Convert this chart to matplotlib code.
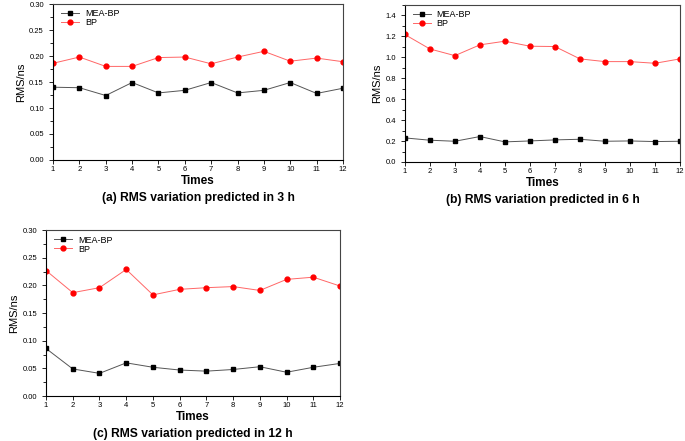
import numpy as np
import matplotlib
matplotlib.use('Agg')
import matplotlib.pyplot as plt
from matplotlib.ticker import AutoMinorLocator

plt.rcParams['font.family'] = ['Liberation Sans', 'DejaVu Sans']

times = list(range(1, 13))

# (a) 3 h
mea_3h = [0.140, 0.139, 0.124, 0.149, 0.129, 0.134, 0.149, 0.129, 0.134, 0.149, 0.128, 0.138]
bp_3h = [0.186, 0.198, 0.180, 0.180, 0.197, 0.198, 0.185, 0.198, 0.209, 0.190, 0.196, 0.189]

# (b) 6 h
mea_6h = [0.230, 0.208, 0.198, 0.243, 0.192, 0.201, 0.211, 0.217, 0.198, 0.201, 0.195, 0.198]
bp_6h = [1.218, 1.080, 1.016, 1.119, 1.154, 1.106, 1.103, 0.985, 0.959, 0.959, 0.943, 0.985]

# (c) 12 h
mea_12h = [0.086, 0.049, 0.041, 0.060, 0.052, 0.047, 0.045, 0.048, 0.053, 0.043, 0.052, 0.059]
bp_12h = [0.227, 0.187, 0.196, 0.229, 0.183, 0.193, 0.196, 0.198, 0.191, 0.211, 0.215, 0.199]

titles = ['(a) RMS variation predicted in 3 h',
          '(b) RMS variation predicted in 6 h',
          '(c) RMS variation predicted in 12 h']


def draw_panel(ax, mea, bp, ymax, yticks, fmt, title):
    ax.plot(times, mea, color='#555555', lw=0.7, marker='s', ms=3.5,
            mfc='black', mec='black', label='MEA-BP')
    ax.plot(times, bp, color='#ff6666', lw=0.7, marker='o', ms=3.5,
            mfc='red', mec='red', label='BP')
    ax.set_xlim(1, 12)
    ax.set_ylim(0, ymax)
    ax.set_xticks(times)
    ax.set_yticks(yticks)
    ax.yaxis.set_major_formatter(plt.FormatStrFormatter(fmt))
    ax.yaxis.set_minor_locator(AutoMinorLocator(2))
    ax.tick_params(axis='both', labelsize=5.5, direction='out', length=3, width=0.6)
    ax.tick_params(axis='y', which='minor', direction='out', length=2, width=0.6)
    ax.tick_params(axis='x', pad=1)
    for s in ['left', 'bottom']:
        ax.spines[s].set_linewidth(0.8)
    for s in ['top', 'right']:
        ax.spines[s].set_linewidth(0.8)
        ax.spines[s].set_color('#444444')
    ax.set_ylabel('RMS/ns', fontsize=8, labelpad=2)
    ax.set_xlabel('Times', fontsize=8.5, fontweight='bold', labelpad=2)
    ax.legend(loc='upper left', frameon=False, fontsize=6.5, handlelength=2.0,
              borderaxespad=0.2, labelspacing=0.0, handletextpad=0.6,
              bbox_to_anchor=(0.01, 1.0))
    ax.annotate(title, xy=(0.5, 0), xycoords='axes fraction',
                xytext=(0, -38), textcoords='offset pixels',
                ha='center', va='center', fontsize=8.7, fontweight='bold')


fig = plt.figure(figsize=(6.85, 4.41), dpi=100)
ax_a = fig.add_axes([0.0774, 0.6372, 0.4233, 0.3537])
ax_b = fig.add_axes([0.591, 0.6327, 0.4017, 0.356])
ax_c = fig.add_axes([0.0672, 0.102, 0.4292, 0.376])

ticks_small = np.arange(0, 0.31, 0.05)
ticks_big = np.arange(0, 1.41, 0.2)
draw_panel(ax_a, mea_3h, bp_3h, 0.30, ticks_small, '%.2f', titles[0])
draw_panel(ax_b, mea_6h, bp_6h, 1.5, ticks_big, '%.1f', titles[1])
draw_panel(ax_c, mea_12h, bp_12h, 0.30, ticks_small, '%.2f', titles[2])

fig.savefig('out.png', dpi=100)
